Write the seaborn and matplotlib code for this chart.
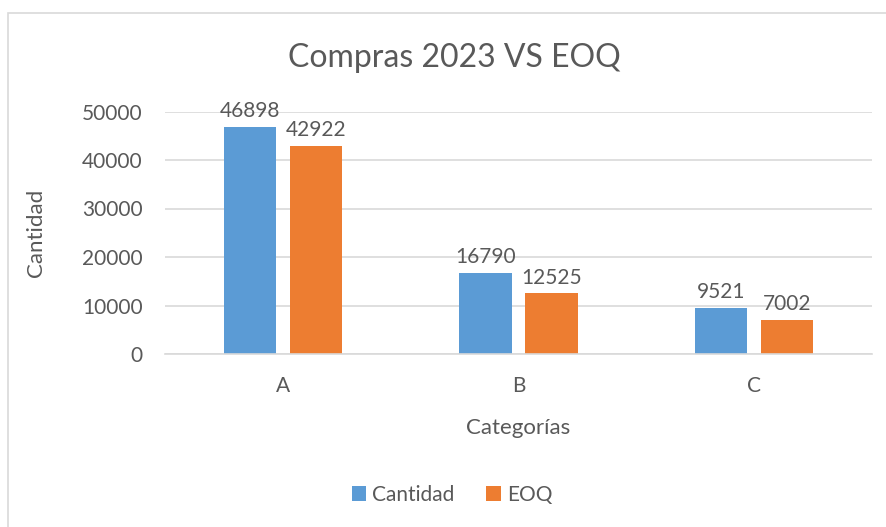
import pandas as pd
import matplotlib.pyplot as plt
import seaborn as sns
from matplotlib.patches import Rectangle

categorias = ["A", "B", "C"]
cantidad = [46898, 16790, 9521]
eoq = [42922, 12525, 7002]

df = pd.DataFrame({
    "Categorías": categorias * 2,
    "Valor": cantidad + eoq,
    "Serie": ["Cantidad"] * 3 + ["EOQ"] * 3,
})

sns.set_theme(style="white", rc={"axes.facecolor": "white", "figure.facecolor": "white"})
plt.rcParams["font.family"] = ["Lato", "DejaVu Sans"]
gris = "#595959"

fig = plt.figure(figsize=(8.87, 5.27), dpi=100)
ax = fig.add_axes([165 / 887, 1 - 354 / 527, 707 / 887, (354 - 111.5) / 527])

sns.barplot(data=df, x="Categorías", y="Valor", hue="Serie",
            palette={"Cantidad": "#5B9BD5", "EOQ": "#ED7D31"},
            width=0.56, gap=0.21, saturation=1, linewidth=0, ax=ax, legend=True)

for cont in ax.containers:
    ax.bar_label(cont, padding=4, fontsize=15, color=gris, clip_on=False)

ax.set_ylim(0, 50000)
ax.set_xlim(-0.5, 2.5)
ax.set_yticks(range(0, 50001, 10000))
ax.yaxis.grid(True, color="#d9d9d9", linewidth=1.2)
ax.set_axisbelow(True)
for s in ["top", "right", "left"]:
    ax.spines[s].set_visible(False)
ax.spines["bottom"].set_color("#d9d9d9")
ax.spines["bottom"].set_linewidth(1.2)
ax.tick_params(axis="both", length=0, labelsize=15, labelcolor=gris)
ax.tick_params(axis="x", pad=16)
ax.tick_params(axis="y", pad=16)

ax.set_xlabel("Categorías", fontsize=16, color=gris, labelpad=16)
ax.set_ylabel("Cantidad", fontsize=16, color=gris, labelpad=26)

fig.suptitle("Compras 2023 VS EOQ", x=454 / 887, y=1 - 58 / 527, va="center",
             fontsize=23, color=gris)

handles, labels = ax.get_legend_handles_labels()
ax.get_legend().remove()
fig.legend(handles, labels, loc="center", bbox_to_anchor=(452 / 887, 1 - 495 / 527),
           ncol=2, frameon=False, fontsize=15, labelcolor=gris,
           handlelength=0.7, handleheight=0.7, handletextpad=0.3, columnspacing=1.5)

fig.patches.append(Rectangle((8.5 / 887, -0.1), 1.2, 1.1 - 12.5 / 527,
                             transform=fig.transFigure, fill=False,
                             edgecolor="#d9d9d9", linewidth=1.2))

plt.savefig("out.png", dpi=100)
